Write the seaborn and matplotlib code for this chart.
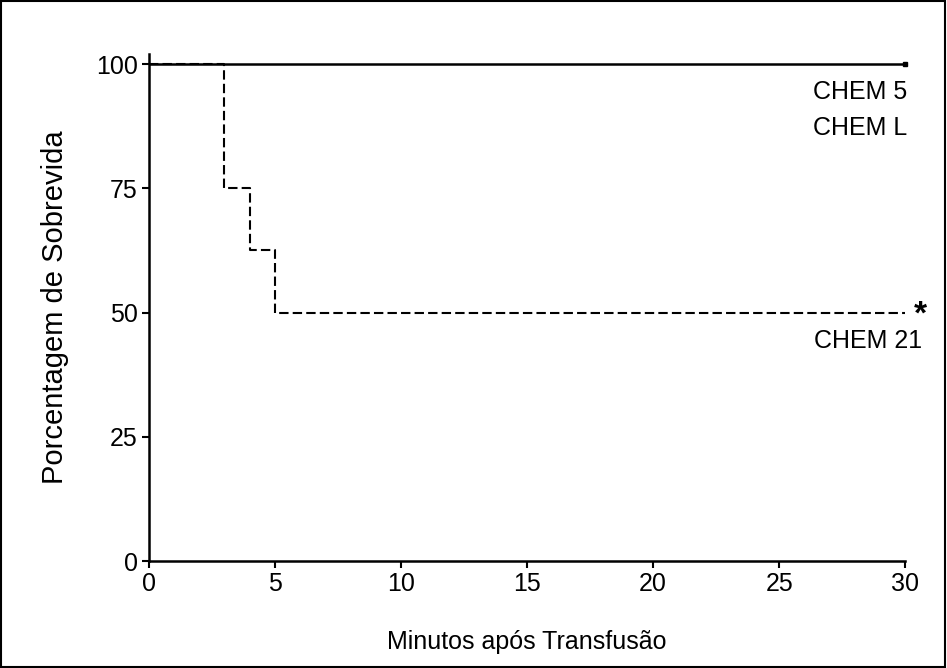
import matplotlib
matplotlib.use("Agg")
import matplotlib.pyplot as plt
import seaborn as sns
import pandas as pd
from matplotlib.patches import Rectangle

sns.set_theme(style="ticks")
plt.rcParams['font.family'] = ['Liberation Sans', 'DejaVu Sans']
plt.rcParams['mathtext.fontset'] = 'custom'
plt.rcParams['mathtext.rm'] = 'Liberation Sans'
plt.rcParams['mathtext.bf'] = 'Liberation Sans:bold'

time_chem5L = [0, 30]
surv_chem5L = [100, 100]
time_chem21 = [0, 3, 4, 5, 30]
surv_chem21 = [100, 75, 62.5, 50, 50]
xticks = [0, 5, 10, 15, 20, 25, 30]
yticks = [0, 25, 50, 75, 100]

df1 = pd.DataFrame({"t": time_chem5L, "s": surv_chem5L})
df2 = pd.DataFrame({"t": time_chem21, "s": surv_chem21})

fig = plt.figure(figsize=(9.47, 6.68), dpi=100)
ax = fig.add_axes([0.157, 0.160, 0.799, 0.759])

sns.lineplot(data=df2, x="t", y="s", ax=ax, color="black", linewidth=1.5,
             drawstyle="steps-post", linestyle=(0, (4.5, 2)))
sns.lineplot(data=df1, x="t", y="s", ax=ax, color="black", linewidth=1.8,
             drawstyle="steps-post")
ax.plot([time_chem5L[-1]], [surv_chem5L[-1]], marker="s", color="black",
        markersize=3.5, clip_on=False)

ax.set_xlim(0, 30)
ax.set_ylim(0, 102)
ax.set_xticks(xticks)
ax.set_yticks(yticks)
ax.tick_params(labelsize=18, length=5, width=1.5, color="black", labelcolor="black",
               pad=3)
for s in ["top", "right"]:
    ax.spines[s].set_visible(False)
for s in ["left", "bottom"]:
    ax.spines[s].set_linewidth(1.8)
    ax.spines[s].set_color("black")
ax.set_xlabel("Minutos após Transfusão", fontsize=18, labelpad=24, color="black")
ax.set_ylabel("Porcentagem de Sobrevida", fontsize=21, labelpad=19, color="black")

ax.text(30.08, 93.0, "CHEM 5", ha="right", va="baseline", fontsize=18, color="black")
ax.text(30.08, 85.7, "CHEM L", ha="right", va="baseline", fontsize=18, color="black")
ax.text(30.67, 42.9, "CHEM 21", ha="right", va="baseline", fontsize=18, color="black")
ax.text(30.6, 49.7, r"$\mathbf{*}$", ha="center", va="center", fontsize=24,
        color="black")

fig.patches.append(Rectangle((0.001, 0.001), 0.997, 0.997, transform=fig.transFigure,
                             fill=False, edgecolor="black", linewidth=1.5))
fig.savefig("out.png", dpi=100)
